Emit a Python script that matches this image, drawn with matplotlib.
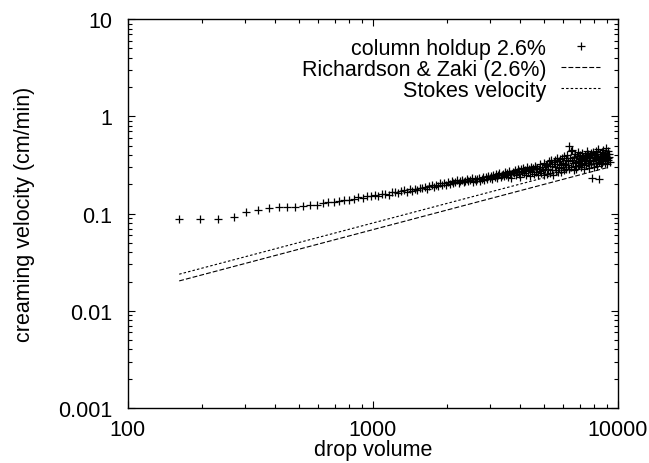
import numpy as np
import matplotlib
matplotlib.use("Agg")
from matplotlib import pyplot as plt
from matplotlib.ticker import FixedLocator, LogLocator, NullFormatter, FuncFormatter

plt.rcParams['font.family'] = ['Liberation Sans', 'DejaVu Sans']
plt.rcParams['font.size'] = 15.5
plt.rcParams['lines.scale_dashes'] = False

# measured creaming velocity vs drop volume (column holdup 2.6%)
drop_volume = [
    162, 197, 233, 270, 304, 339, 376, 413, 447, 482,
    520, 553, 589, 624, 655, 692, 728, 764, 800, 836,
    872, 908, 944, 980, 1016, 1052, 1088, 1124, 1160, 1196,
    1232, 1268, 1304, 1340, 1376, 1412, 1448, 1484, 1520, 1556,
    1592, 1628, 1664, 1700, 1736, 1772, 1808, 1844, 1880, 1916,
    1952, 1988, 2024, 2060, 2096, 2132, 2168, 2204, 2240, 2276,
    2312, 2348, 2384, 2420, 2456, 2492, 2528, 2564, 2600, 2636,
    2672, 2708, 2744, 2780, 2816, 2852, 2888, 2924, 2960, 2996,
    3032, 3068, 3104, 3140, 3176, 3212, 3248, 3284, 3320, 3356,
    3392, 3428, 3464, 3500, 3536, 3572, 3608, 3644, 3680, 3716,
    3752, 3788, 3824, 3860, 3896, 3932, 3968, 4004, 4040, 4076,
    4112, 4148, 4184, 4220, 4256, 4292, 4328, 4364, 4400, 4436,
    4472, 4508, 4544, 4580, 4616, 4652, 4688, 4724, 4760, 4796,
    4832, 4868, 4904, 4940, 4976, 5012, 5048, 5084, 5120, 5156,
    5192, 5228, 5264, 5300, 5336, 5372, 5408, 5444, 5480, 5516,
    5552, 5588, 5624, 5660, 5696, 5732, 5768, 5804, 5840, 5876,
    5912, 5948, 5984, 6020, 6056, 6092, 6128, 6164, 6200, 6236,
    6272, 6308, 6344, 6380, 6416, 6452, 6488, 6524, 6560, 6596,
    6632, 6668, 6704, 6740, 6776, 6812, 6848, 6884, 6920, 6956,
    6992, 7028, 7064, 7100, 7136, 7172, 7208, 7244, 7280, 7316,
    7352, 7388, 7424, 7460, 7496, 7532, 7568, 7604, 7640, 7676,
    7712, 7748, 7784, 7820, 7856, 7892, 7928, 7964, 8000, 8036,
    8072, 8108, 8144, 8180, 8216, 8252, 8288, 8324, 8360, 8396,
    8432, 8468, 8504, 8540, 8576, 8612, 8648, 8684, 8720, 8756,
    8792, 8828, 8864, 8900, 8936, 8972, 9008, 9044, 9080, 9116,
    9152, 9188, 9224, 9260,
]
creaming_velocity = [
    0.087, 0.088, 0.087, 0.092, 0.103, 0.110, 0.114, 0.116, 0.117, 0.117,
    0.119, 0.123, 0.123, 0.128, 0.132, 0.131, 0.136, 0.138, 0.137, 0.142,
    0.148, 0.145, 0.152, 0.150, 0.157, 0.152, 0.160, 0.158, 0.156, 0.165,
    0.168, 0.162, 0.171, 0.175, 0.168, 0.178, 0.172, 0.180, 0.176, 0.185,
    0.183, 0.190, 0.180, 0.192, 0.195, 0.186, 0.198, 0.193, 0.205, 0.196,
    0.208, 0.198, 0.210, 0.203, 0.215, 0.205, 0.212, 0.220, 0.207, 0.216,
    0.222, 0.212, 0.218, 0.228, 0.215, 0.223, 0.230, 0.210, 0.226, 0.219,
    0.225, 0.233, 0.218, 0.228, 0.240, 0.222, 0.236, 0.229, 0.245, 0.231,
    0.243, 0.228, 0.250, 0.238, 0.255, 0.232, 0.248, 0.262, 0.240, 0.252,
    0.258, 0.245, 0.270, 0.250, 0.262, 0.240, 0.275, 0.255, 0.230, 0.266,
    0.260, 0.282, 0.248, 0.270, 0.290, 0.255, 0.276, 0.236, 0.285, 0.268,
    0.295, 0.262, 0.280, 0.250, 0.300, 0.272, 0.288, 0.245, 0.278, 0.305,
    0.270, 0.292, 0.255, 0.310, 0.285, 0.265, 0.298, 0.248, 0.288, 0.275,
    0.325, 0.262, 0.305, 0.280, 0.250, 0.335, 0.288, 0.315, 0.255, 0.320,
    0.290, 0.345, 0.262, 0.325, 0.355, 0.280, 0.310, 0.252, 0.340, 0.305,
    0.360, 0.282, 0.325, 0.375, 0.265, 0.345, 0.295, 0.365, 0.315, 0.270,
    0.370, 0.300, 0.335, 0.280, 0.390, 0.320, 0.355, 0.290, 0.400, 0.315,
    0.345, 0.285, 0.500, 0.370, 0.440, 0.305, 0.355, 0.450, 0.330, 0.280,
    0.380, 0.310, 0.410, 0.340, 0.285, 0.390, 0.350, 0.430, 0.318, 0.370,
    0.335, 0.400, 0.300, 0.365, 0.420, 0.320, 0.385, 0.345, 0.290, 0.405,
    0.355, 0.395, 0.315, 0.440, 0.370, 0.330, 0.410, 0.345, 0.295, 0.385,
    0.360, 0.420, 0.320, 0.400, 0.230, 0.345, 0.430, 0.375, 0.305, 0.400,
    0.385, 0.330, 0.440, 0.365, 0.310, 0.410, 0.355, 0.460, 0.340, 0.225,
    0.370, 0.415, 0.320, 0.395, 0.435, 0.335, 0.380, 0.450, 0.350, 0.405,
    0.385, 0.330, 0.425, 0.365, 0.470, 0.395, 0.320, 0.415, 0.370, 0.440,
    0.355, 0.410, 0.380, 0.340,
]

# model curves (endpoints of straight lines on log-log axes)
model_volume = [162, 9000]
richardson_zaki = [0.0203, 0.296]
stokes = [0.0238, 0.346]

x_ticks = [100, 1000, 10000]
y_ticks = [0.001, 0.01, 0.1, 1, 10]

fig = plt.figure(figsize=(6.49, 4.64), dpi=100)
ax = fig.add_axes([0.197, 0.1185, 0.755, 0.838])

ax.plot(drop_volume, creaming_velocity, linestyle='none', marker='+',
        markersize=6, markeredgewidth=0.9, color='black',
        label='column holdup 2.6%')
ax.plot(model_volume, richardson_zaki, color='black', linewidth=0.8,
        dashes=(3.5, 1.5), label='Richardson & Zaki (2.6%)')
ax.plot(model_volume, stokes, color='black', linewidth=0.8,
        dashes=(1.8, 1.5), label='Stokes velocity')

ax.set_xscale('log')
ax.set_yscale('log')
ax.set_xlim(100, 10000)
ax.set_ylim(0.001, 10)

fmt = FuncFormatter(lambda v, p: '%g' % v)
ax.xaxis.set_major_locator(FixedLocator(x_ticks))
ax.yaxis.set_major_locator(FixedLocator(y_ticks))
ax.xaxis.set_major_formatter(fmt)
ax.yaxis.set_major_formatter(fmt)
ax.xaxis.set_minor_locator(LogLocator(base=10, subs=np.arange(2, 10)))
ax.yaxis.set_minor_locator(LogLocator(base=10, subs=np.arange(2, 10)))
ax.xaxis.set_minor_formatter(NullFormatter())
ax.yaxis.set_minor_formatter(NullFormatter())
ax.tick_params(which='both', direction='in', top=True, right=True, width=0.8)
ax.tick_params(which='major', length=5)
ax.tick_params(which='minor', length=3)
ax.tick_params(axis='x', which='major', pad=8)
ax.tick_params(axis='y', which='major', pad=11)
for s in ax.spines.values():
    s.set_linewidth(1.0)

ax.set_xlabel('drop volume', labelpad=-1)
ax.set_ylabel('creaming velocity (cm/min)', labelpad=17)

ax.legend(loc='upper right', frameon=False, markerfirst=False,
          handlelength=1.8, handletextpad=0.7, labelspacing=0.0,
          bbox_to_anchor=(0.99, 0.985), borderaxespad=0.2)

fig.savefig('out.png', dpi=100)
